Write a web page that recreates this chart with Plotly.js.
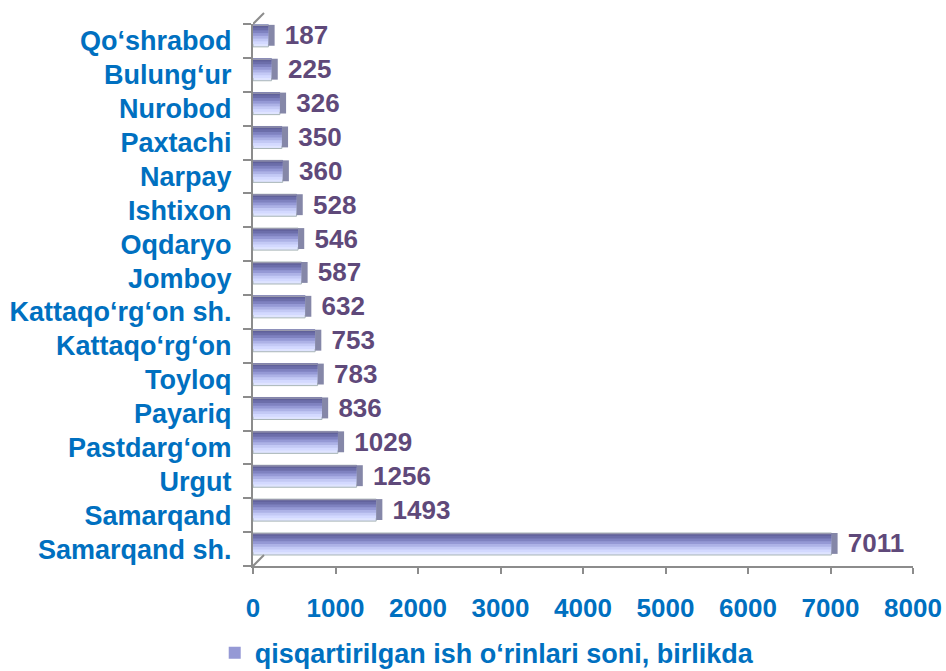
<!DOCTYPE html>
<html>
<head>
<meta charset="utf-8">
<script src="https://cdn.plot.ly/plotly-3.0.1.min.js"></script>
<style>html,body{margin:0;padding:0;background:#fff;}#chart{width:946px;height:671px;}</style>
</head>
<body>
<div id="chart"></div>
<script>
// Data (bottom to top, as in the original chart)
const districts = [
  "Samarqand sh.", "Samarqand", "Urgut", "Pastdarg\u2018om", "Payariq", "Toyloq",
  "Kattaqo\u2018rg\u2018on", "Kattaqo\u2018rg\u2018on sh.", "Jomboy", "Oqdaryo", "Ishtixon",
  "Narpay", "Paxtachi", "Nurobod", "Bulung\u2018ur", "Qo\u2018shrabod"
];
const jobsCut = [7011, 1493, 1256, 1029, 836, 783, 753, 632, 587, 546, 528, 360, 350, 326, 225, 187];
const seriesName = "qisqartirilgan ish o\u2018rinlari soni, birlikda";
const xTicks = [0, 1000, 2000, 3000, 4000, 5000, 6000, 7000, 8000];

// Styling
const FONT = "Arial, 'Liberation Sans', sans-serif";
const BLUE = "#0070c0";
const PURPLE = "#5f497a";
const GREY = "#8c8c8c";
const barW = 0.65, shift = 0.15;
const bottomOff = -barW / 2 + shift;
const layerColors = ["#dfe4ff", "#d3d9ff", "#c3c9f5", "#adb2e6", "#9599d5", "#7f82c0", "#6c6eaa", "#60619a"];
const N = layerColors.length;
const legendLayer = 4;
const capWidth = 75;

const traces = [];
layerColors.forEach((c, k) => {
  traces.push({
    type: "bar", orientation: "h",
    y: districts, x: jobsCut,
    name: seriesName,
    showlegend: k === legendLayer,
    width: barW * (N - k) / N,
    offset: bottomOff + barW * k / N,
    marker: { color: c, line: k === 0 ? { color: "#a9b6b8", width: 1 } : { width: 0 } },
    hoverinfo: "x+y"
  });
});
// thin top edge
traces.push({
  type: "bar", orientation: "h", y: districts, x: jobsCut, showlegend: false,
  width: 0.035, offset: bottomOff + barW - 0.035,
  marker: { color: "#9a9aae", line: { width: 0 } }, hoverinfo: "skip"
});
// 3D end cap with value labels
traces.push({
  type: "bar", orientation: "h", y: districts,
  base: jobsCut, x: jobsCut.map(() => capWidth),
  showlegend: false,
  width: barW * 0.95, offset: bottomOff + barW * 0.05,
  marker: { color: "#8587a8", line: { width: 0 } },
  text: jobsCut.map(String),
  texttemplate: "\u00a0%{text}",
  textposition: "outside",
  constraintext: "none",
  cliponaxis: false,
  textfont: { family: FONT, size: 26, color: PURPLE, weight: "bold" },
  hoverinfo: "skip"
});

// 3D wall corner strokes (pixel-sized, anchored at the axis corners)
const corner = (ya) => ({
  type: "line", xref: "x", yref: "paper", layer: "above",
  xsizemode: "pixel", ysizemode: "pixel", xanchor: 0, yanchor: ya,
  x0: 0, x1: 11, y0: 0, y1: 11,
  line: { color: GREY, width: 2 }
});

const layout = {
  width: 946, height: 671,
  margin: { l: 253, r: 33, t: 24, b: 105, autoexpand: false },
  paper_bgcolor: "#fff", plot_bgcolor: "rgba(0,0,0,0)",
  barmode: "overlay",
  font: { family: FONT },
  shapes: [corner(1), corner(0)],
  xaxis: {
    range: [0, 8000], tickvals: xTicks, ticktext: xTicks.map(String),
    showgrid: false, zeroline: false,
    showline: true, linecolor: GREY, linewidth: 2,
    ticks: "outside", ticklen: 6, tickwidth: 2, tickcolor: GREY,
    ticklabelstandoff: 12,
    tickfont: { family: FONT, size: 26, color: BLUE, weight: "bold" },
    fixedrange: true
  },
  yaxis: {
    type: "category", range: [-0.5, 15.5],
    showgrid: false, zeroline: false,
    showline: true, linecolor: GREY, linewidth: 2,
    ticks: "outside", tickson: "boundaries", ticklen: 8, tickwidth: 2, tickcolor: GREY,
    ticklabelstandoff: 14,
    tickfont: { family: FONT, size: 27, color: BLUE, weight: "bold" },
    fixedrange: true
  },
  showlegend: true,
  legend: {
    orientation: "h", x: -0.058, xanchor: "left", y: -0.161, yanchor: "middle",
    font: { family: FONT, size: 27, color: BLUE, weight: "bold" },
    bgcolor: "rgba(0,0,0,0)", itemwidth: 30
  }
};

Plotly.newPlot("chart", traces, layout, { staticPlot: true, displayModeBar: false });
</script>
</body>
</html>
